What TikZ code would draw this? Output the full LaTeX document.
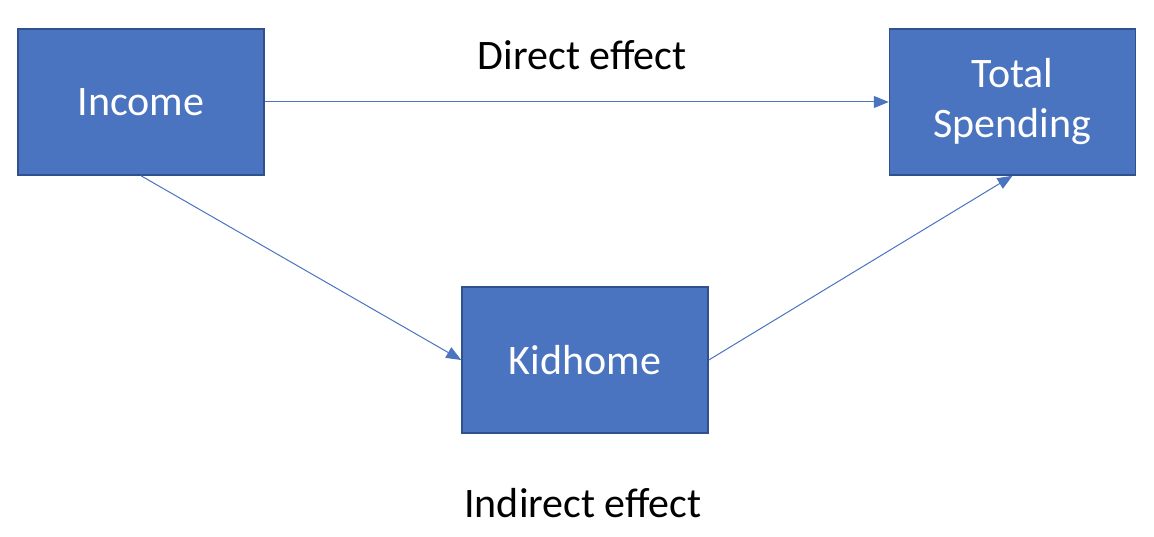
\documentclass[tikz,border=0pt]{standalone}
\usepackage{fontspec}
\setmainfont{Carlito}
\usepackage{xcolor}
\usetikzlibrary{arrows.meta, positioning}

\definecolor{boxblue}{HTML}{4A73C0}
\definecolor{edgeblue}{HTML}{2F528F}

\begin{document}
\begin{tikzpicture}[
  x=0.5pt, y=0.5pt,
  block/.style={draw=edgeblue, fill=boxblue, line width=0.75pt, text=white,
    align=center, minimum width=123pt, minimum height=73pt, inner sep=0pt,
    font=\fontsize{21}{25}\selectfont},
  label/.style={font=\fontsize{21}{25}\selectfont},
  link/.style={-{Triangle[length=7.5pt, width=6pt]}, draw=boxblue, line width=0.5pt}
]
\useasboundingbox (0,0) rectangle (1154,536);

% Boxes
\node[block] (income) at (141,434) {Income};
\node[block, right=312pt of income] (total) {Total\\Spending};
\node[block] (kid) at (585,176) {Kidhome};

% Labels
\node[label] (direct) at (582,481) {Direct effect};
\node[label] (indirect) at (583,33) {Indirect effect};

% Paths
\draw[link] (income.east) -- (total.west);
\draw[link] (income.south) -- (kid.west);
\draw[link] (kid.east) -- (total.south);

\end{tikzpicture}
\end{document}
